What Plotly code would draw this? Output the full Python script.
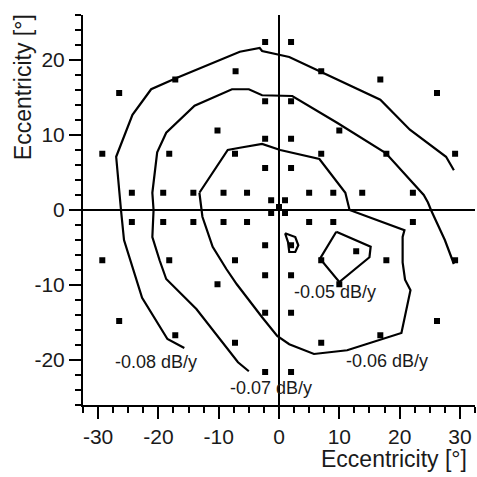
import plotly.graph_objects as go

# Test-point locations (deg)
pts_x = [-2.3, 2.0, -17.2, 16.8, -7.2, 7.0, -26.5, 26.2, -2.3, 2.0, -10.2, 10.0, -2.3, 2.0,
         -29.3, -18.2, -7.3, 7.0, 17.8, 29.2, -2.3, 2.0,
         -24.4, -19.2, -14.2, -9.2, -5.3, 5.0, 9.0, 13.8, 22.2,
         -1.3, 1.0, 0.0, -1.3, 1.0,
         -24.4, -19.2, -14.2, -9.2, -5.3, 5.0, 9.0, 22.2,
         -2.3, 2.0, 12.8,
         -29.3, -18.2, -7.3, 7.0, 17.8, 29.2,
         -2.3, 2.0, -10.2, 10.0, -2.3, 2.0, -26.5, 26.2, -17.2, 16.8, -7.3, 7.0, -2.3, 2.0]
pts_y = [22.4, 22.4, 17.4, 17.4, 18.5, 18.5, 15.6, 15.6, 14.5, 14.5, 10.6, 10.6, 9.5, 9.5,
         7.5, 7.5, 7.5, 7.5, 7.5, 7.5, 5.6, 5.6,
         2.3, 2.3, 2.3, 2.3, 2.3, 2.3, 2.3, 2.3, 2.3,
         1.3, 1.3, 0.4, -0.4, -0.4,
         -1.6, -1.6, -1.6, -1.6, -1.6, -1.6, -1.6, -1.6,
         -4.7, -4.7, -5.5,
         -6.7, -6.7, -6.7, -6.7, -6.7, -6.7,
         -8.7, -8.7, -9.9, -9.9, -13.7, -13.7, -14.8, -14.8, -16.7, -16.7, -17.7, -17.7, -21.6, -21.6]

# Contour lines (deg)
c08_x = [-15.7, -18.5, -22.7, -25.7, -26.2, -27.0, -24.3, -21.2, -17.0, -6.5, -3.2, -2.8, 1.7, 6.8, 16.8, 21.7, 27.7, 29.0]
c08_y = [-18.4, -17.2, -11.7, -4.0, 0.0, 7.1, 12.7, 16.1, 17.6, 21.1, 21.6, 21.2, 20.4, 18.5, 14.7, 10.7, 7.1, 5.3]
c07_x = [-5.0, -6.8, -13.7, -18.7, -19.8, -21.0, -20.8, -21.0, -20.2, -18.7, -14.0, -7.8, -5.0, -2.8, 2.2, 9.7, 17.7, 21.8, 24.0, 24.7, 25.2, 27.5, 29.0]
c07_y = [-21.5, -20.3, -13.2, -9.2, -6.7, -3.6, 0.0, 2.3, 7.7, 10.3, 13.9, 16.1, 16.1, 15.3, 15.2, 11.6, 7.6, 4.0, 2.0, 1.0, 0.0, -4.0, -7.2]
c06_x = [-13.2, -8.5, -6.5, -2.8, 0.2, 6.7, 11.0, 11.7, 20.8, 20.5, 20.5, 20.9, 21.8, 20.3, 11.3, 5.8, 1.7, -0.3, -2.8, -7.0, -8.7, -11.0, -12.7, -13.2]
c06_y = [2.3, 8.0, 8.3, 8.8, 8.0, 6.8, 2.3, 0.0, -2.7, -3.6, -7.0, -9.3, -10.7, -16.4, -18.7, -19.2, -17.9, -16.8, -14.3, -9.9, -7.9, -4.9, -0.9, 2.3]
c05a_x = [9.5, 15.2, 15.0, 10.0, 6.8, 9.5]
c05a_y = [-2.9, -4.9, -6.3, -9.6, -6.5, -2.9]
c05b_x = [1.0, 2.7, 3.2, 2.7, 1.7, 1.5, 1.0]
c05b_y = [-3.1, -3.6, -4.7, -5.6, -5.6, -4.3, -3.1]

label_text = ["-0.08 dB/y", "-0.07 dB/y", "-0.06 dB/y", "-0.05 dB/y"]
label_x = [-20.4, -1.3, 17.9, 9.3]
label_y = [-20.3, -23.7, -20.1, -10.9]

tick_vals = [-30, -20, -10, 0, 10, 20, 30]
x_tick_text = ["-30", "-20", "-10", "0", "10", "20", "30"]
y_tick_vals = [-20, -10, 0, 10, 20]
y_tick_text = ["-20", "-10", "0", "10", "20"]

FONT = "Liberation Sans, Arial, sans-serif"
TXT = "#1a1a1a"

fig = go.Figure()
for cx, cy in [(c08_x, c08_y), (c07_x, c07_y), (c06_x, c06_y), (c05a_x, c05a_y), (c05b_x, c05b_y)]:
    fig.add_trace(go.Scatter(x=cx, y=cy, mode="lines", line=dict(color="black", width=2.2),
                             showlegend=False, hoverinfo="skip"))
fig.add_trace(go.Scatter(x=pts_x, y=pts_y, mode="markers",
                         marker=dict(symbol="square", size=6, color="black"),
                         showlegend=False))

for t, x, y in zip(label_text, label_x, label_y):
    fig.add_annotation(x=x, y=y, text=t, showarrow=False,
                       font=dict(family=FONT, size=18, color=TXT))

fig.add_annotation(xref="paper", yref="paper", x=0.793, y=-0.138, text="Eccentricity [°]",
                   showarrow=False, font=dict(family=FONT, size=23, color=TXT),
                   xanchor="center", yanchor="middle")
fig.add_annotation(xref="paper", yref="paper", x=-0.153, y=0.815, text="Eccentricity [°]",
                   showarrow=False, textangle=-90, font=dict(family=FONT, size=23, color=TXT),
                   xanchor="center", yanchor="middle")

axis_common = dict(showgrid=False, showline=True, linecolor="black", linewidth=2,
                   ticks="outside", ticklen=12, tickwidth=2, tickcolor="black",
                   zeroline=True, zerolinecolor="black", zerolinewidth=2,
                   tickfont=dict(family=FONT, size=21, color=TXT), mirror=False)

fig.update_xaxes(range=[-32.5, 32.5], tickvals=tick_vals, ticktext=x_tick_text,
                 minor=dict(dtick=2.5, tick0=0, ticklen=6, tickwidth=2, tickcolor="black", ticks="outside"),
                 **axis_common)
fig.update_yaxes(range=[-26, 26], tickvals=y_tick_vals, ticktext=y_tick_text,
                 minor=dict(dtick=2, tick0=0, ticklen=6, tickwidth=2, tickcolor="black", ticks="outside"),
                 **axis_common)

fig.update_layout(width=477, height=477, margin=dict(l=83, r=2, t=15, b=72),
                  plot_bgcolor="white", paper_bgcolor="white", showlegend=False)

fig.write_html("out.html", config={"displayModeBar": False},
               post_script="document.body.style.margin='0';document.body.style.overflow='hidden';")
